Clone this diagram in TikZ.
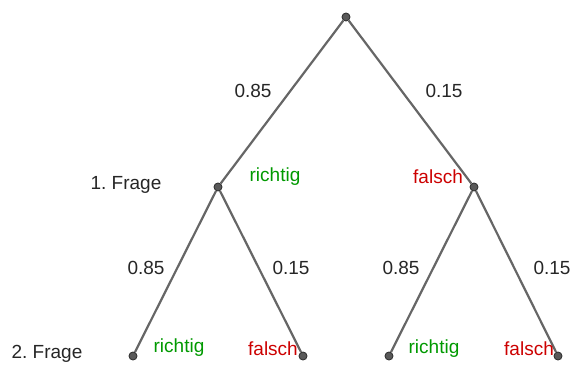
\documentclass[tikz,border=0pt]{standalone}
\usepackage{fontspec}
\setmainfont{Liberation Sans}
\usepackage{xcolor}
\usepackage{tikz}
\definecolor{richtiggreen}{RGB}{0,153,0}
\definecolor{falschred}{RGB}{204,0,0}

\begin{document}
\begin{tikzpicture}[
  x=1pt, y=-1pt,
  dot/.style={
    circle, inner sep=0pt, minimum size=8pt,
    draw=black!80, fill=black!65, line width=0.9pt
  },
  branch/.style={draw=black!60, line width=2.2pt},
  prob/.style={font=\fontsize{19}{23}\selectfont, text=black!85},
  ok/.style={font=\fontsize{19}{23}\selectfont, text=richtiggreen},
  wrong/.style={font=\fontsize{19}{23}\selectfont, text=falschred}
]
\useasboundingbox (0,0) rectangle (573,365);

% Tree nodes
\node[dot] (root) at (346, 17) {};
\node[dot] (r)    at (218,187) {};
\node[dot] (f)    at (474,187) {};
\node[dot] (rr)   at (133,356) {};
\node[dot] (rf)   at (303,356) {};
\node[dot] (fr)   at (389,356) {};
\node[dot] (ff)   at (558,356) {};

% Branches
\draw[branch] (root) -- (r);
\draw[branch] (root) -- (f);
\draw[branch] (r) -- (rr);
\draw[branch] (r) -- (rf);
\draw[branch] (f) -- (fr);
\draw[branch] (f) -- (ff);

% Probabilities
\node[prob] (p1)  at (253, 91) {0.85};
\node[prob] (p2)  at (444, 91) {0.15};
\node[prob] (p11) at (146,268) {0.85};
\node[prob] (p12) at (291,268) {0.15};
\node[prob] (p21) at (401,268) {0.85};
\node[prob] (p22) at (552,268) {0.15};

% Level labels
\node[prob] (q1) at (126,185) {1.\ Frage};
\node[prob] (q2) at (47,354) {2.\ Frage};

% Outcomes
\node[ok]    (lr)  at (275,177) {richtig};
\node[wrong] (lf)  at (438,177) {falsch};
\node[ok]    (lrr) at (179,348) {richtig};
\node[wrong] (lrf) at (273,349) {falsch};
\node[ok]    (lfr) at (434,349) {richtig};
\node[wrong] (lff) at (529,349) {falsch};

\end{tikzpicture}
\end{document}
